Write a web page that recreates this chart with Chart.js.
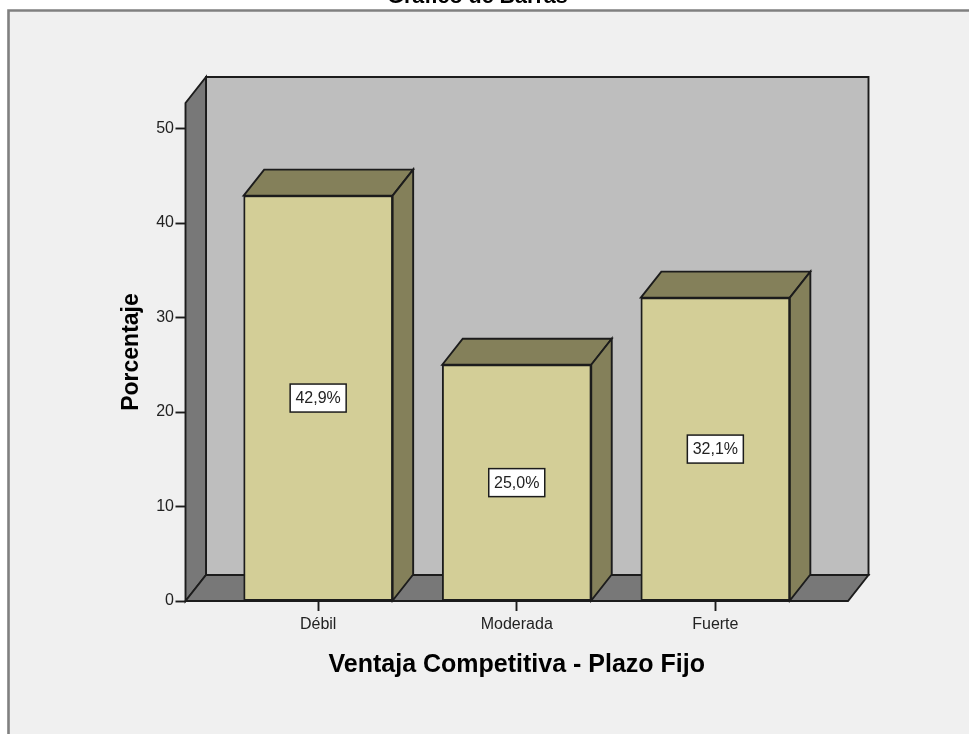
<!DOCTYPE html>
<html><head><meta charset="utf-8">
<style>html,body{margin:0;padding:0;background:#fff}canvas{display:block}#w{width:969px;height:734px;position:relative}</style>
<script src="https://cdn.jsdelivr.net/npm/chart.js@4"></script>
</head><body><div id="w"><canvas id="c"></canvas></div>
<script>
const categories = ['Débil', 'Moderada', 'Fuerte'];
const values = [42.9, 25.0, 32.1];
const valueLabels = ['42,9%', '25,0%', '32,1%'];
const chartTitle = 'Gráfico de Barras';
const xTitle = 'Ventaja Competitiva - Plazo Fijo';
const yTitle = 'Porcentaje';

const DX = 20.5, DY = 26;
const FF = '"Liberation Sans", Arial, sans-serif';
const INK = '#1c1c1c';

function poly(ctx, pts, fill) {
  ctx.beginPath();
  pts.forEach((p, i) => i ? ctx.lineTo(p[0], p[1]) : ctx.moveTo(p[0], p[1]));
  ctx.closePath();
  ctx.fillStyle = fill; ctx.fill();
  ctx.strokeStyle = INK; ctx.lineWidth = 1.9; ctx.lineJoin = 'miter'; ctx.stroke();
}

const frame = {
  id: 'frame',
  beforeDraw(chart) {
    const ctx = chart.ctx;
    ctx.save();
    ctx.fillStyle = '#ffffff'; ctx.fillRect(0, 0, chart.width, chart.height);
    ctx.fillStyle = '#f0f0f0'; ctx.fillRect(9, 10, chart.width - 9, chart.height - 10);
    ctx.strokeStyle = '#808080'; ctx.lineWidth = 2.6;
    ctx.beginPath(); ctx.moveTo(8.5, chart.height); ctx.lineTo(8.5, 10.5); ctx.lineTo(chart.width, 10.5); ctx.stroke();
    ctx.font = 'bold 21.5px ' + FF;
    ctx.fillStyle = '#000'; ctx.textAlign = 'center'; ctx.textBaseline = 'alphabetic';
    ctx.fillText(chartTitle, 477.5, 3);
    ctx.restore();
  }
};

const box3d = {
  id: 'box3d',
  beforeDatasetsDraw(chart) {
    const ctx = chart.ctx, a = chart.chartArea;
    ctx.save();
    const l = a.left, r = a.right, t = a.top, b = a.bottom;
    poly(ctx, [[l + DX, t - DY], [r + DX, t - DY], [r + DX, b - DY], [l + DX, b - DY]], '#bebebe');
    poly(ctx, [[l, t], [l + DX, t - DY], [l + DX, b - DY], [l, b]], '#787878');
    poly(ctx, [[l, b], [l + DX, b - DY], [r + DX, b - DY], [r, b]], '#787878');
    chart.getDatasetMeta(0).data.forEach(el => {
      const x0 = el.x - el.width / 2, x1 = el.x + el.width / 2, y = el.y, base = el.base;
      poly(ctx, [[x0, y], [x0 + DX, y - DY], [x1 + DX, y - DY], [x1, y]], '#84805a');
      poly(ctx, [[x1, y], [x1 + DX, y - DY], [x1 + DX, base - DY], [x1, base]], '#84805a');
    });
    ctx.restore();
  },
  afterDatasetsDraw(chart) {
    const ctx = chart.ctx;
    ctx.save();
    ctx.font = '16px ' + FF;
    ctx.textAlign = 'center'; ctx.textBaseline = 'middle';
    chart.getDatasetMeta(0).data.forEach((el, i) => {
      const cy = (el.y + el.base) / 2;
      const w = 56, h = 28;
      ctx.fillStyle = '#fff'; ctx.fillRect(el.x - w / 2, cy - h / 2, w, h);
      ctx.strokeStyle = INK; ctx.lineWidth = 1.5; ctx.strokeRect(el.x - w / 2, cy - h / 2, w, h);
      ctx.fillStyle = '#222'; ctx.fillText(valueLabels[i], el.x, cy + 1);
    });
    ctx.restore();
  }
};

new Chart(document.getElementById('c'), {
  type: 'bar',
  data: {
    datasets: [{
      data: values.map((v, i) => ({ x: i, y: v })),
      backgroundColor: '#d3ce97',
      borderColor: INK,
      borderWidth: 1.9,
      borderSkipped: false,
      barThickness: 149
    }]
  },
  plugins: [frame, box3d],
  options: {
    responsive: true,
    maintainAspectRatio: false,
    animation: false,
    layout: { padding: { top: 103, right: 121, left: 0, bottom: 0 } },
    plugins: { legend: { display: false }, tooltip: { enabled: false } },
    scales: {
      x: {
        type: 'linear',
        offset: false,
        min: -0.668,
        max: 2.668,
        afterFit(s) { s.height = 133; },
        afterBuildTicks(s) { s.ticks = categories.map((c, i) => ({ value: i })); },
        ticks: {
          autoSkip: false, maxRotation: 0, color: '#222', padding: 4,
          font: { family: FF, size: 16 },
          callback: v => categories[v]
        },
        grid: { offset: false, drawOnChartArea: false, tickLength: 10, tickColor: INK, tickWidth: 1.9 },
        border: { display: false },
        title: { display: true, text: xTitle, color: '#000', font: { family: FF, size: 25, weight: 'bold' }, padding: { top: 0, bottom: 54 } }
      },
      y: {
        min: 0,
        max: 52.7,
        afterFit(s) { s.width = 185.5; },
        ticks: {
          stepSize: 10, includeBounds: false, color: '#222', padding: 1.5,
          font: { family: FF, size: 16 }
        },
        grid: { drawOnChartArea: false, tickLength: 10, tickColor: INK, tickWidth: 1.9 },
        border: { display: false },
        title: { display: true, text: yTitle, color: '#000', font: { family: FF, size: 23, weight: 'bold' }, padding: { top: 118, bottom: 0 } }
      }
    }
  }
});
</script></body></html>
